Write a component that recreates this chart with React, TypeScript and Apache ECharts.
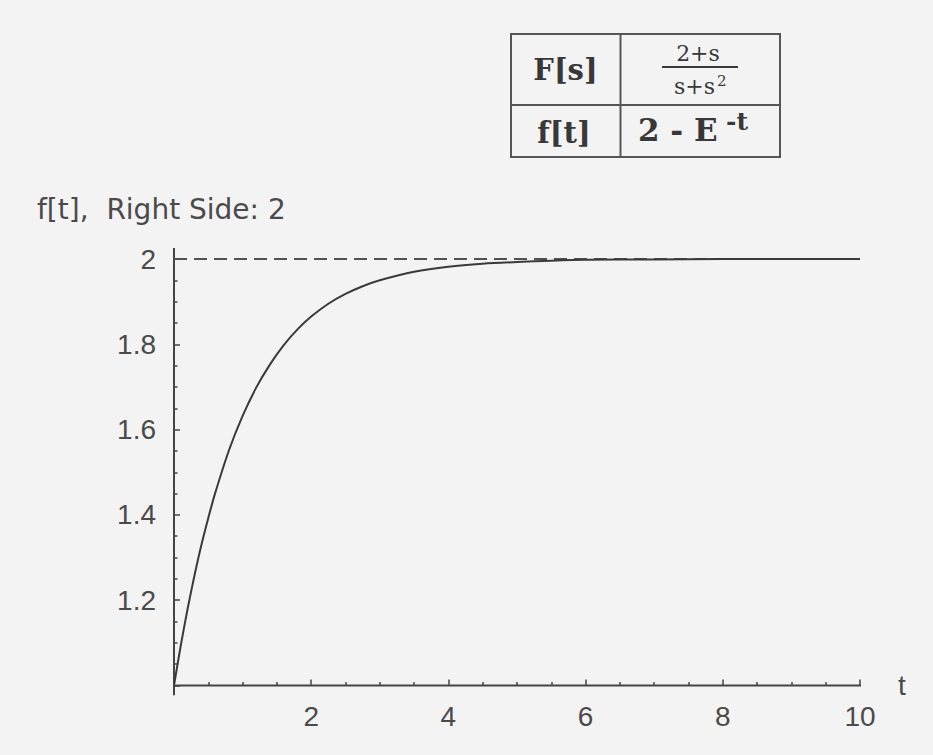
import React, { useEffect, useRef } from "react";
import * as echarts from "echarts";

// f[t] = 2 - E^-t, sampled along t
const tValues = [0, 0.1, 0.2, 0.3, 0.4, 0.5, 0.6, 0.8, 1.0, 1.2, 1.4, 1.6, 1.8, 2.0, 2.25, 2.5, 2.75, 3.0, 3.5, 4.0, 4.5, 5.0, 5.5, 6.0, 7.0, 8.0, 9.0, 10.0];
const fValues = [1.0, 1.095, 1.181, 1.259, 1.33, 1.393, 1.451, 1.551, 1.632, 1.699, 1.753, 1.798, 1.835, 1.865, 1.895, 1.918, 1.936, 1.95, 1.97, 1.982, 1.989, 1.993, 1.996, 1.998, 1.999, 2.0, 2.0, 2.0];

// horizontal reference line at the right-side value
const rightSide = 2;

// axis ranges and tick steps
const tRange = [0, 10];
const fRange = [1, 2];
const tStep = 2;
const fStep = 0.2;

const axisColor = "#444";
const textColor = "#4a4a4a";
const inkColor = "#383838";
const labelFont = '"Liberation Sans", Arial, sans-serif';
const titleFont = '"DejaVu Sans", sans-serif';
const tableFont = '"DejaVu Serif", serif';

export default function App() {
  const ref = useRef<HTMLDivElement>(null);

  useEffect(() => {
    if (!ref.current) return;
    const chart = echarts.init(ref.current, null, { renderer: "svg" });

    const curve = tValues.map((t, i) => [t, fValues[i]]);
    const tSpan = tRange[1] - tRange[0];
    const fSpan = fRange[1] - fRange[0];

    chart.setOption({
      animation: false,
      backgroundColor: "#f3f3f3",
      grid: { left: 174, right: 73, top: 259, bottom: 69.5, outerBoundsMode: "none" },
      xAxis: {
        type: "value",
        min: tRange[0],
        max: tRange[1],
        interval: tStep,
        name: "t",
        nameLocation: "end",
        nameGap: 38,
        nameTextStyle: { color: textColor, fontSize: 28, fontFamily: labelFont, verticalAlign: "middle" },
        axisLine: { show: false },
        axisTick: { show: true, inside: true, length: 6, lineStyle: { color: axisColor, width: 1.5 } },
        minorTick: { show: true, splitNumber: 4, length: 3.5, lineStyle: { color: axisColor, width: 1.5 } },
        splitLine: { show: false },
        axisLabel: { showMinLabel: false, margin: 17, color: textColor, fontSize: 28, fontFamily: labelFont },
      },
      yAxis: {
        type: "value",
        min: fRange[0],
        max: fRange[1],
        interval: fStep,
        axisLine: { show: false },
        axisTick: { show: true, inside: true, length: 6, lineStyle: { color: axisColor, width: 1.5 } },
        minorTick: { show: true, splitNumber: 4, length: 3.5, lineStyle: { color: axisColor, width: 1.5 } },
        splitLine: { show: false },
        axisLabel: { showMinLabel: false, margin: 18, color: textColor, fontSize: 28, fontFamily: labelFont },
      },
      series: [
        {
          // horizontal axis, running a little past both ends
          type: "line",
          silent: true,
          clip: false,
          symbol: "none",
          data: [
            [tRange[0] - tSpan * 0.03, fRange[0]],
            [tRange[1] + tSpan * 0.029, fRange[0]],
          ],
          lineStyle: { color: axisColor, width: 2 },
          z: 1,
        },
        {
          // vertical axis, crossing below the horizontal one
          type: "line",
          silent: true,
          clip: false,
          symbol: "none",
          data: [
            [tRange[0], fRange[0] - fSpan * 0.023],
            [tRange[0], fRange[1] + fSpan * 0.026],
          ],
          lineStyle: { color: axisColor, width: 2 },
          z: 1,
        },
        {
          type: "line",
          silent: true,
          symbol: "none",
          data: [
            [tRange[0], rightSide],
            [tRange[1], rightSide],
          ],
          lineStyle: { color: "#505050", width: 2, type: [13, 7] },
          z: 2,
        },
        {
          type: "line",
          silent: true,
          symbol: "none",
          smooth: 0.3,
          clip: false,
          data: curve,
          lineStyle: { color: "#3a3a3a", width: 2 },
          z: 3,
        },
      ],
      graphic: [
        {
          type: "text",
          left: 37,
          top: 195,
          style: { text: "f[t],  Right Side: 2", fill: textColor, fontSize: 28, fontFamily: titleFont },
        },
        {
          // transform table: F[s] over f[t]
          type: "group",
          x: 511,
          y: 34,
          children: [
            {
              type: "rect",
              shape: { x: 0, y: 0, width: 269, height: 123 },
              style: { fill: "none", stroke: "#555", lineWidth: 2 },
            },
            { type: "line", shape: { x1: 109.5, y1: 0, x2: 109.5, y2: 123 }, style: { stroke: "#555", lineWidth: 2 } },
            { type: "line", shape: { x1: 0, y1: 71, x2: 269, y2: 71 }, style: { stroke: "#555", lineWidth: 2 } },
            {
              type: "text",
              style: { text: "F[s]", x: 54.5, y: 36, align: "center", verticalAlign: "middle", fill: inkColor, fontSize: 29, fontWeight: "bold", fontFamily: tableFont },
            },
            {
              type: "text",
              style: { text: "f[t]", x: 53, y: 99, align: "center", verticalAlign: "middle", fill: inkColor, fontSize: 29, fontWeight: "bold", fontFamily: tableFont },
            },
            {
              type: "text",
              style: { text: "2+s", x: 187, y: 19, align: "center", verticalAlign: "middle", fill: inkColor, fontSize: 22, fontFamily: tableFont },
            },
            { type: "line", shape: { x1: 151, y1: 33, x2: 227, y2: 33 }, style: { stroke: inkColor, lineWidth: 2 } },
            {
              type: "text",
              style: { text: "s+s", x: 204, y: 52, align: "right", verticalAlign: "middle", fill: inkColor, fontSize: 22, fontFamily: tableFont },
            },
            {
              type: "text",
              style: { text: "2", x: 206, y: 47, align: "left", verticalAlign: "middle", fill: inkColor, fontSize: 15, fontFamily: tableFont },
            },
            {
              type: "text",
              style: { text: "2 - E", x: 127, y: 96, align: "left", verticalAlign: "middle", fill: inkColor, fontSize: 31, fontWeight: "bold", fontFamily: tableFont },
            },
            {
              type: "text",
              style: { text: "-t", x: 215, y: 87, align: "left", verticalAlign: "middle", fill: inkColor, fontSize: 25, fontWeight: "bold", fontFamily: tableFont },
            },
          ],
        },
      ],
    });

    return () => chart.dispose();
  }, []);

  return (
    <div
      ref={ref}
      style={{ position: "absolute", left: 0, top: 0, width: 933, height: 755 }}
    />
  );
}
